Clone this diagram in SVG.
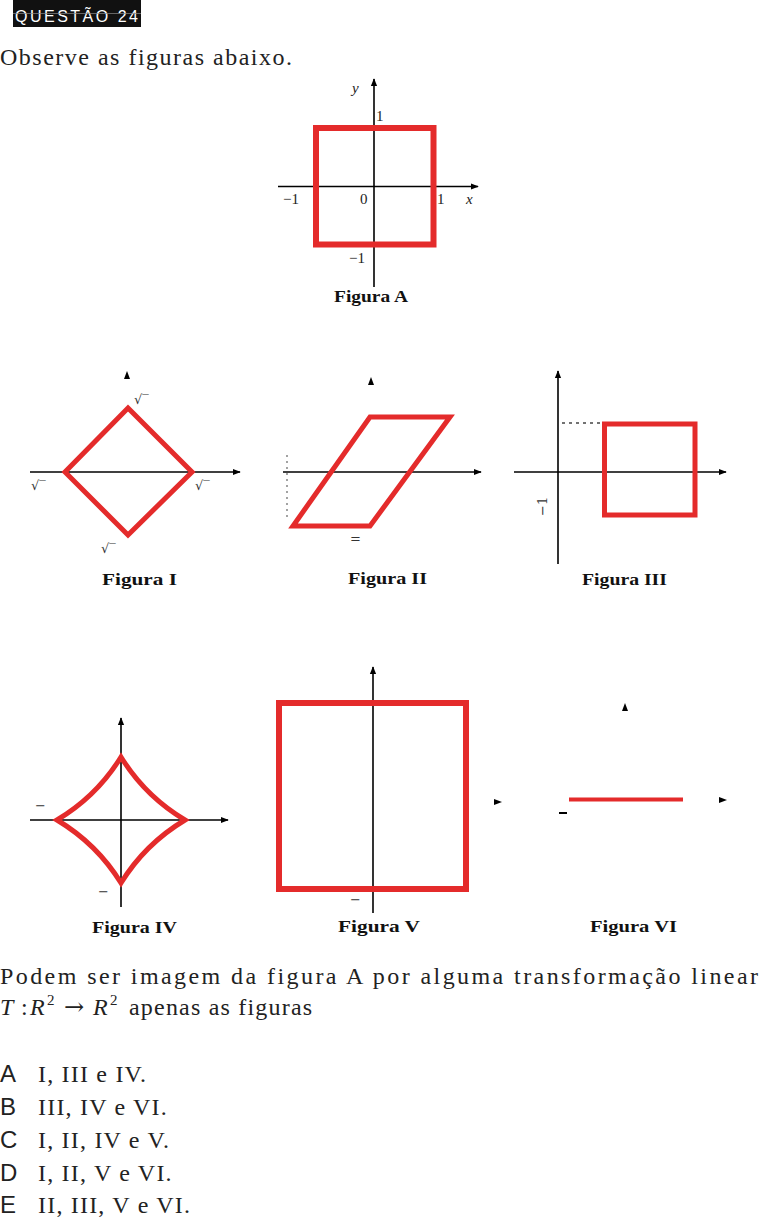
<svg xmlns="http://www.w3.org/2000/svg" width="759" height="1218" viewBox="0 0 759 1218">
<style>
.ax{stroke:#000;stroke-width:1.6;fill:none}
.rd{stroke:#e42b2b;fill:none;stroke-linejoin:miter}
.ser{font-family:"Liberation Serif","Times New Roman",serif;fill:#222}
.cap{font-family:"Liberation Serif","Times New Roman",serif;font-size:17px;fill:#111;font-weight:bold}
.lb{font-family:"Liberation Serif","Times New Roman",serif;font-size:15px;fill:#222}
.fl{font-family:"DejaVu Serif","Liberation Serif",serif;font-size:13px;fill:#333}
.opt{font-family:"Liberation Sans",Arial,sans-serif;font-size:24px;fill:#222}
.otx{font-family:"Liberation Serif","Times New Roman",serif;font-size:24px;fill:#222;letter-spacing:1.2px}
</style>
<defs>
<marker id="ah" viewBox="0 0 10 10" refX="9" refY="5" markerWidth="5" markerHeight="5" orient="auto"><path d="M0,1 L10,5 L0,9 z" fill="#000"/></marker>
</defs>
<rect width="759" height="1218" fill="#fff"/>

<g id="header">
<rect x="13" y="0" width="128" height="27" fill="#111"/>
<text x="15" y="22" font-family="Liberation Sans,Arial,sans-serif" font-size="16" fill="#fff" letter-spacing="2.5">QUESTÃO 24</text>
<line x1="13" y1="13.5" x2="141" y2="13.5" stroke="#888" stroke-width="0.7"/>
</g>

<text id="intro" class="ser" x="0" y="65" font-size="24" textLength="292" lengthAdjust="spacing">Observe as figuras abaixo.</text>

<g id="figA">
<line class="ax" x1="374" y1="287" x2="374" y2="79" marker-end="url(#ah)"/>
<line class="ax" x1="278" y1="186.5" x2="478" y2="186.5" marker-end="url(#ah)"/>
<rect class="rd" x="316" y="128" width="117.5" height="116.5" stroke-width="6"/>
<text class="lb" x="352" y="93" font-style="italic">y</text>
<text class="lb" x="376" y="121">1</text>
<text class="lb" x="283" y="204">−1</text>
<text class="lb" x="360" y="204">0</text>
<text class="lb" x="437" y="204">1</text>
<text class="lb" x="466" y="204" font-style="italic">x</text>
<text class="lb" x="349" y="263">−1</text>
<text class="cap" x="334" y="302" textLength="74" lengthAdjust="spacingAndGlyphs">Figura A</text>
</g>

<g id="figI">
<line class="ax" x1="30" y1="472" x2="240" y2="472" marker-end="url(#ah)"/>
<path d="M124,379 L127,371 L130,379 z" fill="#000"/>
<path class="rd" d="M128,408 L192,472 L128,535 L65,472 Z" stroke-width="5"/>
<text class="fl" x="134" y="404">√‾</text>
<text class="fl" x="31" y="490">√‾</text>
<text class="fl" x="195" y="490">√‾</text>
<text class="fl" x="101" y="553">√‾</text>
<text class="cap" x="102" y="585" textLength="75" lengthAdjust="spacingAndGlyphs">Figura I</text>
</g>

<g id="figII">
<line class="ax" x1="283" y1="472" x2="481" y2="472" marker-end="url(#ah)"/>
<path d="M368,385 L371,377 L374,385 z" fill="#000"/>
<path class="rd" d="M370,417 L450,417 L370,526 L293,526 Z" stroke-width="5"/>
<line x1="287" y1="455" x2="287" y2="520" stroke="#666" stroke-width="1.2" stroke-dasharray="2,4"/>
<text class="fl" x="350" y="543" font-size="11">=</text>
<text class="cap" x="348" y="584" textLength="79" lengthAdjust="spacingAndGlyphs">Figura II</text>
</g>

<g id="figIII">
<line class="ax" x1="558" y1="564" x2="558" y2="371" marker-end="url(#ah)"/>
<line class="ax" x1="514" y1="472" x2="726" y2="472" marker-end="url(#ah)"/>
<line x1="562" y1="423" x2="602" y2="423" stroke="#444" stroke-width="1.5" stroke-dasharray="3,4"/>
<rect class="rd" x="604.5" y="424" width="90.5" height="91" stroke-width="5"/>
<text class="fl" x="0" y="0" font-size="10" transform="translate(547,516) rotate(-90)">−1</text>
<text class="cap" x="582" y="585" textLength="85" lengthAdjust="spacingAndGlyphs">Figura III</text>
</g>

<g id="figIV">
<line class="ax" x1="121" y1="907" x2="121" y2="718" marker-end="url(#ah)"/>
<line class="ax" x1="30" y1="820" x2="228" y2="820" marker-end="url(#ah)"/>
<path class="rd" d="M121,757 Q145,796 185,820 Q145,844 121,883 Q97,844 57,820 Q97,796 121,757 Z" stroke-width="5"/>
<text class="fl" x="35" y="810" font-size="11">−</text>
<text class="fl" x="98" y="896" font-size="11">−</text>
<text class="cap" x="92" y="933" textLength="85" lengthAdjust="spacingAndGlyphs">Figura IV</text>
</g>

<g id="figV">
<line class="ax" x1="373" y1="913" x2="373" y2="667" marker-end="url(#ah)"/>
<path d="M494,799 L502,802 L494,805 z" fill="#000"/>
<rect class="rd" x="279" y="703" width="187" height="186" stroke-width="6"/>
<text class="fl" x="350" y="904" font-size="11">−</text>
<text class="cap" x="338" y="932" textLength="82" lengthAdjust="spacingAndGlyphs">Figura V</text>
</g>

<g id="figVI">
<line x1="569" y1="799.5" x2="683" y2="799.5" stroke="#e42b2b" stroke-width="4"/>
<path d="M719,797 L727,800 L719,803 z" fill="#000"/>
<path d="M622,711 L625,703 L628,711 z" fill="#000"/>
<line x1="559" y1="813" x2="567" y2="813" stroke="#000" stroke-width="2"/>
<text class="cap" x="590" y="932" textLength="87" lengthAdjust="spacingAndGlyphs">Figura VI</text>
</g>

<g id="question">
<text class="ser" x="0" y="984" font-size="24" textLength="758" lengthAdjust="spacing">Podem ser imagem da figura A por alguma transformação linear</text>
<text class="ser" font-size="24" y="1015"><tspan x="0" font-style="italic">T</tspan><tspan x="21">:</tspan><tspan x="30" font-style="italic">R</tspan><tspan x="47" y="1005" font-size="15">2</tspan><tspan x="64" y="1015" font-family="DejaVu Serif,serif" font-size="24">→</tspan><tspan x="93" font-style="italic">R</tspan><tspan x="110" y="1005" font-size="15">2</tspan><tspan x="129" y="1015" letter-spacing="1.2">apenas as figuras</tspan></text>
</g>

<g id="options">
<text class="opt" x="0" y="1082">A</text><text class="otx" x="38" y="1082">I, III e IV.</text>
<text class="opt" x="0" y="1115">B</text><text class="otx" x="38" y="1115">III, IV e VI.</text>
<text class="opt" x="0" y="1148">C</text><text class="otx" x="38" y="1148">I, II, IV e V.</text>
<text class="opt" x="0" y="1181">D</text><text class="otx" x="38" y="1181">I, II, V e VI.</text>
<text class="opt" x="0" y="1213">E</text><text class="otx" x="38" y="1213">II, III, V e VI.</text>
</g>
</svg>
